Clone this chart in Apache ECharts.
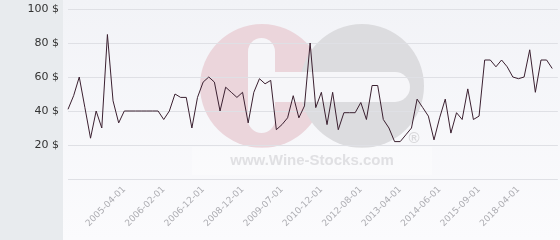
<!DOCTYPE html>
<html>
<head>
<meta charset="utf-8">
<script src="https://cdn.jsdelivr.net/npm/echarts@6/dist/echarts.min.js"></script>
<style>html,body{margin:0;padding:0;background:#f5f6f9;}#c{width:560px;height:240px;}</style>
</head>
<body>
<div id="c"></div>
<script>
// Tick labels shown on the x axis (every 7th category starting at index 10)
const tickLabels = ['2005-04-01','2006-02-01','2006-12-01','2008-12-01','2009-07-01','2010-12-01','2012-08-01','2013-04-01','2014-06-01','2015-09-01','2018-04-01'];
const firstLabelIndex = 10;
const labelStep = 7;
// Price values (one per category)
const prices = [41,49,60,42,24,40,30,85,46,33,
  40,40,40,40,40,40,40,35,40,50,
  48,48,30,48,57,60,57,40,54,51,
  48,51,33,51,59,56,58,29,32,36,
  49,36,43,80,42,51,32,51,29,39,
  39,39,45,35,55,55,35,30,22,22,
  26,30,47,42,37,23,36,47,27,39,
  35,53,35,37,70,70,66,70,66,60,
  59,60,76,51,70,70,65,null];
const yTicks = [0,20,40,60,80,100];

const categories = prices.map(function(_, i){
  const k = i - firstLabelIndex;
  if (k >= 0 && k % labelStep === 0 && tickLabels[k / labelStep] !== undefined) return tickLabels[k / labelStep];
  return '';
});

const chart = echarts.init(document.getElementById('c'), null, {renderer:'canvas'});
chart.setOption({
  backgroundColor: '#f5f6f9',
  animation: false,
  graphic: [
    {type:'rect', z:-20, silent:true, shape:{x:63,y:0,width:497,height:240},
      style:{fill:new echarts.graphic.LinearGradient(0,0,0,1,[{offset:0,color:'#f2f3f7'},{offset:1,color:'#fbfbfd'}])}},
    {type:'rect', z:-20, silent:true, shape:{x:0,y:0,width:63,height:240}, style:{fill:'#e8ebee'}},
    {type:'circle', z:-15, silent:true, shape:{cx:262,cy:86,r:62}, style:{fill:'#ebd5db'}},
    {type:'circle', z:-14, silent:true, shape:{cx:362,cy:86,r:62}, style:{fill:'#dcdcdf'}},
    {type:'rect', z:-13, silent:true, shape:{x:248,y:38,width:27,height:95,r:13.5}, style:{fill:'#f6f6f9'}},
    {type:'rect', z:-13, silent:true, shape:{x:248,y:72,width:162,height:30,r:15}, style:{fill:'#f6f6f9'}},
    {type:'rect', z:-13, silent:true, shape:{x:192,y:147,width:240,height:28}, style:{fill:'rgba(255,255,255,0.3)'}},
    {type:'text', z:-12, silent:true, x:312, y:161, style:{text:'www.Wine-Stocks.com', font:'bold 15px "Liberation Sans", Arial, sans-serif', fill:'#e0e0e3', align:'center', verticalAlign:'middle'}},
    {type:'text', z:-12, silent:true, x:414, y:139, style:{text:'®', font:'bold 15px "Liberation Sans", Arial, sans-serif', fill:'#d8d8db', align:'center', verticalAlign:'middle'}}
  ],
  grid: {left:68, right:0, top:9, bottom:61, containLabel:false},
  xAxis: {
    type:'category',
    data: categories,
    boundaryGap:false,
    axisLine:{show:false},
    axisTick:{show:false},
    splitLine:{show:false},
    axisLabel:{
      rotate:45,
      interval:function(i){ const k=i-firstLabelIndex; return k>=0 && k%labelStep===0; },
      color:'#adadb2',
      fontSize:9,
      fontFamily:'DejaVu Sans',
      margin:9
    }
  },
  yAxis: {
    type:'value',
    min:yTicks[0], max:yTicks[yTicks.length-1], interval:20,
    axisLine:{show:false},
    axisTick:{show:false},
    splitLine:{show:true, lineStyle:{color:'#dfe0e5', width:1}},
    axisLabel:{
      color:'#333', fontSize:11, fontFamily:'DejaVu Sans', margin:9,
      formatter:function(v){ return v===0 ? '' : v+' $'; }
    }
  },
  series: [{
    type:'line',
    data: prices,
    symbol:'none',
    connectNulls:false,
    lineStyle:{color:'#3b2030', width:1},
    itemStyle:{color:'#3b2030'},
    z:10
  }]
});
</script>
</body>
</html>
